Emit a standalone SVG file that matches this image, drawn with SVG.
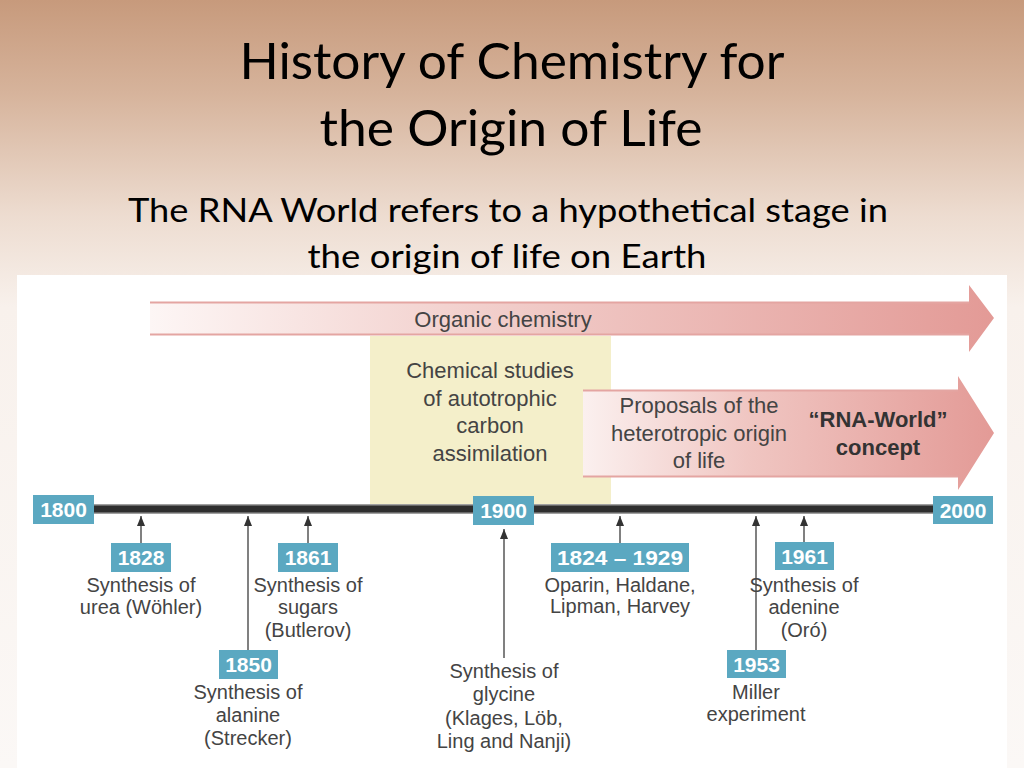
<svg xmlns="http://www.w3.org/2000/svg" width="1024" height="768" viewBox="0 0 1024 768">
<defs>
<linearGradient id="bg" x1="0" y1="0" x2="0" y2="1">
<stop offset="0" stop-color="#c79a7c"/>
<stop offset="0.12" stop-color="#d6b39b"/>
<stop offset="0.28" stop-color="#eddcd0"/>
<stop offset="0.4" stop-color="#f8f1ec"/>
<stop offset="1" stop-color="#fbf8f6"/>
</linearGradient>
<linearGradient id="arr1" x1="150" y1="0" x2="995" y2="0" gradientUnits="userSpaceOnUse">
<stop offset="0" stop-color="#fdf6f5"/>
<stop offset="0.35" stop-color="#f3d3d0"/>
<stop offset="1" stop-color="#e39a96"/>
</linearGradient>
<linearGradient id="arr2" x1="583" y1="0" x2="995" y2="0" gradientUnits="userSpaceOnUse">
<stop offset="0" stop-color="#fbf0ef"/>
<stop offset="0.4" stop-color="#f0c6c2"/>
<stop offset="1" stop-color="#e39a96"/>
</linearGradient>
<marker id="up" viewBox="0 0 10 8" refX="10" refY="4" markerWidth="10" markerHeight="8" markerUnits="userSpaceOnUse" orient="auto">
<path d="M0,0 L10,4 L0,8 Z" fill="#333"/>
</marker>
<style>
.title{font-family:Lato,"Open Sans","Liberation Sans",sans-serif;fill:#000;text-anchor:middle}
.t1{font-size:50px}
.t2{font-size:33px}
.lbl{font-family:"Liberation Sans",Arial,sans-serif;font-size:20px;fill:#444;text-anchor:middle}
.box{font-family:"Liberation Sans",Arial,sans-serif;font-size:22px;fill:#444;text-anchor:middle}
.bold{font-weight:bold;fill:#333}
.yr{fill:#5ba8c1}
.yt{font-family:"Liberation Sans",Arial,sans-serif;font-size:21px;font-weight:bold;fill:#fff;text-anchor:middle}
.conn{stroke:#808080;stroke-width:2;fill:none;marker-end:url(#up)}
</style>
</defs>
<rect x="0" y="0" width="1024" height="768" fill="url(#bg)"/>
<rect x="17" y="275" width="990" height="493" fill="#ffffff"/>

<text class="title t1" x="512" y="79" textLength="545" lengthAdjust="spacingAndGlyphs">History of Chemistry for</text>
<text class="title t1" x="511" y="146" textLength="383" lengthAdjust="spacingAndGlyphs">the Origin of Life</text>
<text class="title t2" x="508" y="222" textLength="760" lengthAdjust="spacingAndGlyphs">The RNA World refers to a hypothetical stage in</text>
<text class="title t2" x="507" y="268" textLength="399" lengthAdjust="spacingAndGlyphs">the origin of life on Earth</text>

<g id="organic-chemistry">
<path d="M150,302 L969,302 L969,285 L994,318 L969,352 L969,335 L150,335 Z" fill="url(#arr1)"/>
<line x1="150" y1="302.5" x2="969" y2="302.5" stroke="#e4a5a2" stroke-width="2"/>
<line x1="150" y1="334.5" x2="969" y2="334.5" stroke="#e4a5a2" stroke-width="2"/>
<text class="box" x="503" y="327">Organic chemistry</text>
</g>

<g id="autotrophic">
<rect x="370" y="336" width="241" height="168" fill="#f4efca"/>
<text class="box" x="490" y="378">Chemical studies</text>
<text class="box" x="490" y="406">of autotrophic</text>
<text class="box" x="490" y="433">carbon</text>
<text class="box" x="490" y="461">assimilation</text>
</g>

<g id="heterotropic">
<path d="M583,390 L958,390 L958,376 L994,433 L958,490 L958,477 L583,477 Z" fill="url(#arr2)"/>
<line x1="583" y1="390.5" x2="958" y2="390.5" stroke="#e4a5a2" stroke-width="2"/>
<line x1="583" y1="476.5" x2="958" y2="476.5" stroke="#e4a5a2" stroke-width="2"/>
<text class="box" x="699" y="413">Proposals of the</text>
<text class="box" x="699" y="441">heterotropic origin</text>
<text class="box" x="699" y="468">of life</text>
<text class="box bold" x="878" y="427">“RNA-World”</text>
<text class="box bold" x="878" y="455">concept</text>
</g>

<g id="timeline">
<rect x="93" y="504" width="842" height="10" fill="#a0a0a0"/>
<rect x="93" y="505.5" width="842" height="7" fill="#2e2e2e"/>
</g>

<g id="y1800"><rect class="yr" x="33" y="495" width="61" height="29"/><text class="yt" x="63.5" y="517">1800</text></g>
<g id="y1900"><rect class="yr" x="473" y="496" width="61" height="29"/><text class="yt" x="503.5" y="518">1900</text></g>
<g id="y2000"><rect class="yr" x="933" y="496" width="60" height="28"/><text class="yt" x="963" y="518">2000</text></g>

<g id="connectors">
<line class="conn" x1="141" y1="543" x2="141" y2="516"/>
<line class="conn" x1="248" y1="650" x2="248" y2="516"/>
<line class="conn" x1="308" y1="543" x2="308" y2="516"/>
<line class="conn" x1="504" y1="658" x2="504" y2="529"/>
<line class="conn" x1="620" y1="543" x2="620" y2="516"/>
<line class="conn" x1="756" y1="650" x2="756" y2="516"/>
<line class="conn" x1="804" y1="542" x2="804" y2="516"/>
</g>

<g id="e1828">
<rect class="yr" x="111" y="543" width="60" height="29"/><text class="yt" x="141" y="565">1828</text>
<text class="lbl" x="141" y="592">Synthesis of</text>
<text class="lbl" x="141" y="614">urea (Wöhler)</text>
</g>
<g id="e1861">
<rect class="yr" x="278" y="543" width="60" height="29"/><text class="yt" x="308" y="565">1861</text>
<text class="lbl" x="308" y="592">Synthesis of</text>
<text class="lbl" x="308" y="614">sugars</text>
<text class="lbl" x="308" y="637">(Butlerov)</text>
</g>
<g id="e1850">
<rect class="yr" x="219" y="650" width="59" height="29"/><text class="yt" x="248.5" y="672">1850</text>
<text class="lbl" x="248" y="699">Synthesis of</text>
<text class="lbl" x="248" y="722">alanine</text>
<text class="lbl" x="248" y="745">(Strecker)</text>
</g>
<g id="eglycine">
<text class="lbl" x="504" y="678">Synthesis of</text>
<text class="lbl" x="504" y="701">glycine</text>
<text class="lbl" x="504" y="725">(Klages, Löb,</text>
<text class="lbl" x="504" y="748">Ling and Nanji)</text>
</g>
<g id="e1824">
<rect class="yr" x="551" y="543" width="138" height="29"/><text class="yt" x="620" y="565" textLength="126" lengthAdjust="spacingAndGlyphs">1824 – 1929</text>
<text class="lbl" x="620" y="592">Oparin, Haldane,</text>
<text class="lbl" x="620" y="613">Lipman, Harvey</text>
</g>
<g id="e1953">
<rect class="yr" x="727" y="650" width="59" height="28"/><text class="yt" x="756.5" y="672">1953</text>
<text class="lbl" x="756" y="699">Miller</text>
<text class="lbl" x="756" y="721">experiment</text>
</g>
<g id="e1961">
<rect class="yr" x="775" y="542" width="59" height="28"/><text class="yt" x="804.5" y="564">1961</text>
<text class="lbl" x="804" y="592">Synthesis of</text>
<text class="lbl" x="804" y="614">adenine</text>
<text class="lbl" x="804" y="637">(Oró)</text>
</g>
</svg>
